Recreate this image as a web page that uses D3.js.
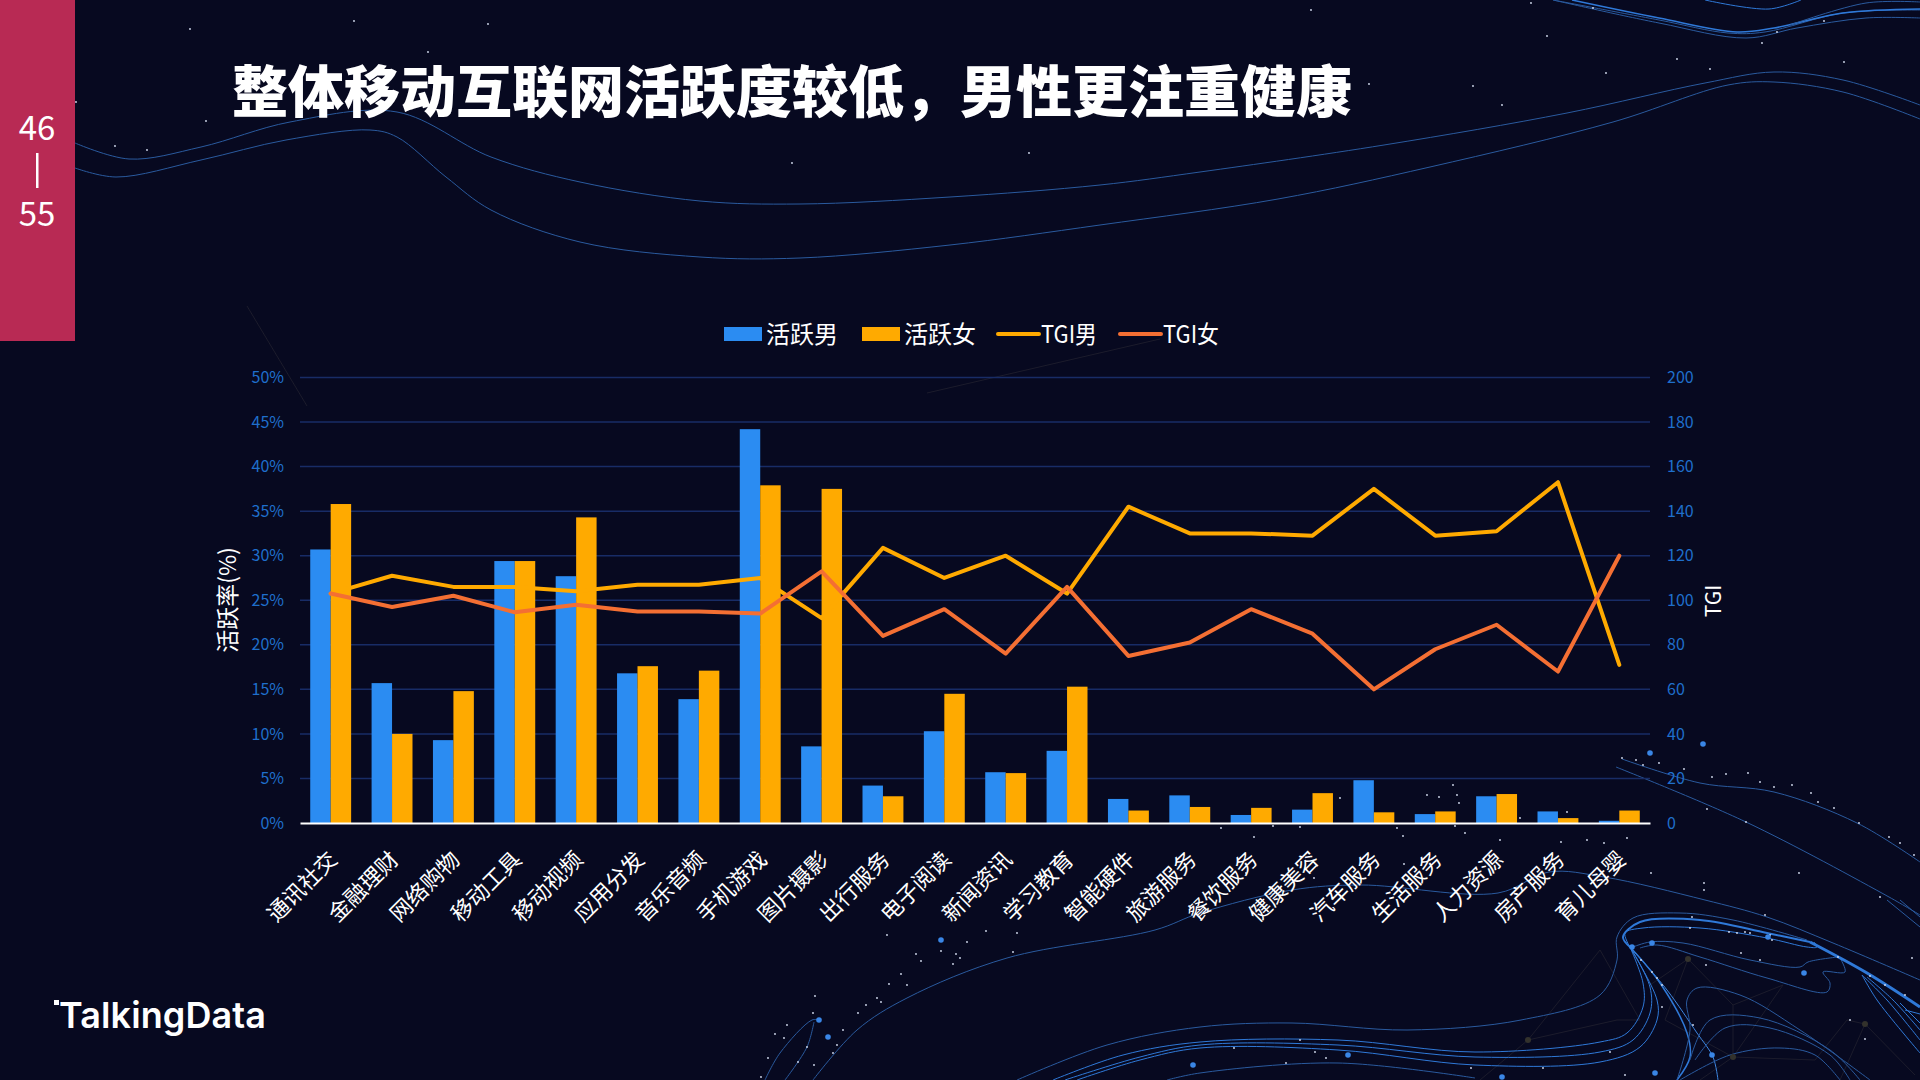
<!DOCTYPE html>
<html>
<head>
<meta charset="utf-8">
<script src="https://cdn.jsdelivr.net/npm/d3@7"></script>
<style>
    html, body { margin: 0; padding: 0; background: #070920; }
    svg { display: block; }
    text { font-family: "Noto Sans CJK SC", "Noto Sans", sans-serif; }
</style>
</head>
<body>
<script>
    //------------------------1. PREPARATION------------------------//
    //-----------------------------DATA-----------------------------//
    const data = [
        { name: "通讯社交", male: 30.7, female: 35.8, tgiMale: 103, tgiFemale: 103 },
        { name: "金融理财", male: 15.7, female: 10.0, tgiMale: 111, tgiFemale: 97 },
        { name: "网络购物", male: 9.3, female: 14.8, tgiMale: 106, tgiFemale: 102 },
        { name: "移动工具", male: 29.4, female: 29.4, tgiMale: 106, tgiFemale: 94.6 },
        { name: "移动视频", male: 27.7, female: 34.3, tgiMale: 104, tgiFemale: 98 },
        { name: "应用分发", male: 16.8, female: 17.6, tgiMale: 107, tgiFemale: 95 },
        { name: "音乐音频", male: 13.9, female: 17.1, tgiMale: 107, tgiFemale: 95 },
        { name: "手机游戏", male: 44.2, female: 37.9, tgiMale: 110, tgiFemale: 94 },
        { name: "图片摄影", male: 8.6, female: 37.5, tgiMale: 92, tgiFemale: 113 },
        { name: "出行服务", male: 4.2, female: 3.0, tgiMale: 123.5, tgiFemale: 84 },
        { name: "电子阅读", male: 10.3, female: 14.5, tgiMale: 110, tgiFemale: 96 },
        { name: "新闻资讯", male: 5.7, female: 5.6, tgiMale: 120, tgiFemale: 76 },
        { name: "学习教育", male: 8.1, female: 15.3, tgiMale: 103, tgiFemale: 106 },
        { name: "智能硬件", male: 2.7, female: 1.4, tgiMale: 142, tgiFemale: 75 },
        { name: "旅游服务", male: 3.1, female: 1.8, tgiMale: 130, tgiFemale: 81 },
        { name: "餐饮服务", male: 0.9, female: 1.7, tgiMale: 130, tgiFemale: 96 },
        { name: "健康美容", male: 1.5, female: 3.35, tgiMale: 129, tgiFemale: 85 },
        { name: "汽车服务", male: 4.8, female: 1.2, tgiMale: 150, tgiFemale: 60 },
        { name: "生活服务", male: 1.0, female: 1.3, tgiMale: 129, tgiFemale: 78 },
        { name: "人力资源", male: 3.0, female: 3.25, tgiMale: 131, tgiFemale: 89 },
        { name: "房产服务", male: 1.3, female: 0.55, tgiMale: 153, tgiFemale: 68 },
        { name: "育儿母婴", male: 0.25, female: 1.4, tgiMale: 71, tgiFemale: 120 }
    ];

    const BLUE = "#2b8cf2", AMBER = "#ffaa00", ORANGE = "#f46f33";
    const TICK = "#1f6fcc", GRID = "#182c66", CURVE = "#2a5a9e", BRIGHT = "#2f79d8";

    //-----------------------------SVG------------------------------//
    const svg = d3.select("body").append("svg")
        .attr("width", 1920)
        .attr("height", 1080);

    svg.append("rect").attr("width", 1920).attr("height", 1080).attr("fill", "#070920");

    //--------------------------BACKGROUND--------------------------//
    // faint network behind the swirl
    const net = [
        [[1688,959],[1733,1005],[1733,1057]], [[1688,959],[1665,1020],[1733,1057]], [[1733,1005],[1783,985],[1733,1057]],
        [[1688,959],[1650,985]], [[1865,1024],[1847,1020],[1815,1060],[1733,1057]], [[1865,1024],[1915,1075]],
        [[1528,1040],[1600,950]], [[1528,1040],[1480,1080]], [[1528,1040],[1617,1020]], [[1600,950],[1640,1020],[1617,1020]],
        [[1733,1057],[1700,1080]], [[1865,1024],[1840,1080]],
        [[927,393],[1160,339]], [[247,306],[307,406]]
    ];
    const straight = d3.line();
    svg.append("g").attr("fill", "none").attr("stroke", "#1c1c2c")
        .selectAll("path")
        .data(net)
        .enter()
        .append("path")
        .attr("d", d => straight(d));

    // swooshes
    const curves = [
        { w: 1, c: CURVE, p: [[75,143],[129,159],[201,147],[290,122],[397,112],[491,157],[580,182],[700,201],[800,204],[950,197],[1100,185],[1200,172],[1384,145],[1567,113],[1705,83],[1774,72],[1843,80],[1920,105]] },
        { w: 1, c: CURVE, p: [[75,168],[116,177],[201,160],[286,140],[370,130],[397,137],[446,177],[491,210],[580,242],[700,257],[800,258],[950,245],[1100,225],[1278,199],[1430,167],[1613,122],[1728,85],[1774,82],[1843,92],[1920,119]] },
        { w: 1, c: CURVE, p: [[1553,0],[1659,20],[1728,33],[1765,32],[1843,13],[1920,10]] },
        { w: 1.5, c: BRIGHT, p: [[1572,0],[1659,18],[1737,32],[1774,28],[1843,13],[1920,9]] },
        { w: 1, c: CURVE, p: [[1553,0],[1659,23],[1746,38],[1797,28],[1866,18],[1920,18]] },
        { w: 1, c: BRIGHT, p: [[1705,0],[1769,9],[1801,0]] },
        { w: 1, c: CURVE, p: [[1790,25],[1866,3],[1920,2]] },
        // right side
        { w: 1, c: CURVE, p: [[1616,767],[1746,822],[1889,897],[1920,915]] },
        { w: 1, c: CURVE, p: [[1622,759],[1700,783],[1774,792],[1857,823],[1920,862]] },
        { w: 1, c: CURVE, p: [[813,1080],[857,1030],[907,998],[1007,958],[1155,930],[1200,913],[1292,890],[1361,885],[1498,893],[1549,872],[1604,877],[1705,900],[1767,917],[1833,943],[1920,980]] },
        { w: 1, c: CURVE, p: [[1887,900],[1920,927]] },
        { w: 1, c: CURVE, p: [[1900,900],[1920,917]] },
        // swirl
        { w: 1, c: CURVE, p: [[1017,1080],[1107,1045],[1200,1027],[1292,1023],[1407,1030],[1521,1020],[1600,995],[1617,960],[1617,937],[1633,918],[1680,913],[1733,920],[1807,940]] },
        { w: 2, c: BRIGHT, p: [[1630,947],[1623,937],[1640,922],[1700,920],[1767,933],[1810,942]] },
        { w: 1, c: BRIGHT, p: [[1630,947],[1625,933],[1643,928],[1700,928],[1767,938],[1807,947],[1817,947],[1814,942]] },
        { w: 1, c: CURVE, p: [[1633,947],[1650,942],[1683,943],[1750,960],[1800,967],[1808,962],[1838,957]] },
        { w: 1, c: CURVE, p: [[1640,948],[1657,945],[1700,957],[1767,978],[1827,992],[1830,983],[1823,972],[1845,972],[1840,958]] },
        { w: 1, c: BRIGHT, p: [[1053,1080],[1123,1055],[1200,1042],[1338,1040],[1475,1052],[1600,1042],[1627,1033],[1643,1007],[1643,983],[1630,947]] },
        { w: 1, c: BRIGHT, p: [[1065,1080],[1140,1057],[1200,1045],[1338,1045],[1475,1057],[1600,1052],[1633,1040],[1650,1013],[1650,987],[1630,947]] },
        { w: 1, c: BRIGHT, p: [[1077,1080],[1140,1060],[1200,1048],[1338,1050],[1475,1065],[1600,1062],[1640,1047],[1657,1020],[1657,1000],[1630,947]] },
        { w: 1, c: CURVE, p: [[1167,1080],[1200,1073],[1338,1063],[1475,1078]] },
        { w: 1, c: "#3d86e0", p: [[1630,947],[1667,990],[1697,1033],[1713,1057],[1718,1080]] },
        { w: 1.5, c: BRIGHT, p: [[1630,947],[1660,983],[1687,1033],[1690,1057],[1677,1080]] },
        { w: 1, c: CURVE, p: [[1677,1080],[1690,1030],[1687,1000],[1697,988],[1740,995],[1800,1030],[1870,1080]] },
        { w: 1, c: CURVE, p: [[1690,1060],[1710,1020],[1760,1018],[1830,1050],[1860,1080]] },
        { w: 1, c: CURVE, p: [[1695,1060],[1725,1028],[1770,1028],[1830,1055],[1850,1080]] },
        { w: 1, c: CURVE, p: [[1680,1080],[1730,1055],[1780,1048],[1815,1055],[1840,1080]] },
        // bright band and its fan
        { w: 3, c: BRIGHT, p: [[1810,942],[1867,973],[1920,1007]] },
        { w: 1, c: BRIGHT, p: [[1862,975],[1877,1000],[1920,1053]] },
        { w: 1, c: BRIGHT, p: [[1862,975],[1887,1000],[1920,1040]] },
        { w: 1, c: BRIGHT, p: [[1867,977],[1893,1000],[1920,1030]] },
        { w: 1, c: BRIGHT, p: [[1900,1003],[1920,1023]] },
        { w: 1, c: BRIGHT, p: [[1905,1010],[1920,1014]] },
        // small spray bottom left
        { w: 1, c: CURVE, p: [[765,1080],[780,1053],[812,1020],[819,1020]] },
        { w: 1, c: CURVE, p: [[785,1080],[807,1047],[814,1022]] }
    ];
    const swoosh = d3.line().curve(d3.curveCatmullRom.alpha(0.5));
    svg.append("g").attr("fill", "none")
        .selectAll("path")
        .data(curves)
        .enter()
        .append("path")
        .attr("stroke", d => d.c)
        .attr("stroke-width", d => d.w)
        .attr("d", d => swoosh(d.p));

    const stars = [
        [190,29],[354,21],[488,24],[428,52],[115,146],[147,150],[76,102],[206,121],[792,163],[1029,153],
        [1311,10],[1531,3],[1593,8],[1547,36],[1762,43],[1777,32],[1824,21],[1677,59],[1606,73],[1710,69],[1844,62],[1473,86],[1502,105],[1369,84],
        [815,996],[813,1013],[787,1025],[775,1034],[784,1038],[768,1058],[858,1013],[866,1005],[877,998],[881,1002],[889,984],[907,985],[901,974],[921,961],[916,954],
        [953,964],[960,958],[956,954],[967,942],[941,951],[1013,952],[986,931],[1017,933],[887,935],[843,1030],[837,1045],[833,1053],[814,1065],[807,1047],[798,1062],[761,1077],
        [1622,758],[1636,760],[1643,765],[1659,763],[1684,769],[1712,777],[1726,774],[1748,773],[1760,782],[1774,787],[1792,785],[1811,793],[1818,802],[1834,808],[1859,823],[1889,837],[1900,843],[1914,855],
        [1707,809],[1746,822],[1799,873],[1651,873],[1704,883],[1704,890],[1765,915],[1880,897],[1912,958],
        [1453,785],[1427,795],[1439,797],[1457,795],[1459,803],[1340,798],[1254,837],[1221,828],[1273,826],[1300,827],[1397,828],[1403,836],[1455,826],[1465,833],[1500,840],[1561,842],[1587,840],[1604,843],[1627,838],[1567,812],[1520,818],[1404,864],[1246,873],[1314,878],
        [1300,1040],[1234,1048],[1315,1052],[1326,1058],[1286,1063],[1471,1068],[1543,1068],[1610,1052],[1625,1075],
        [1692,917],[1690,928],[1729,932],[1737,933],[1745,932],[1750,933],[1770,935],[1772,940],[1741,953],[1760,960],[1706,965],[1641,960],[1652,972],[1657,978],[1662,985],[1662,1007],[1693,1025],[1850,1020],[1865,1039],[1838,957],[1870,976],[1885,985],[1905,995]
    ];
    svg.append("g").selectAll("circle")
        .data(stars)
        .enter()
        .append("circle")
        .attr("cx", d => d[0])
        .attr("cy", d => d[1])
        .attr("r", 0.9)
        .attr("fill", "#d8e2f5");

    const nodes = [[1650,753],[1703,744],[1632,947],[1652,943],[1768,937],[1804,973],[1712,1055],[1655,1073],[1348,1055],[1502,1077],[819,1020],[828,1037],[941,940],[1193,1065]];
    svg.append("g").selectAll("circle")
        .data(nodes)
        .enter()
        .append("circle")
        .attr("cx", d => d[0])
        .attr("cy", d => d[1])
        .attr("r", 2.8)
        .attr("fill", "#3a86e6");

    const darkNodes = [[1688,959],[1733,1057],[1865,1024],[1528,1040]];
    svg.append("g").selectAll("circle")
        .data(darkNodes)
        .enter()
        .append("circle")
        .attr("cx", d => d[0])
        .attr("cy", d => d[1])
        .attr("r", 3)
        .attr("fill", "#33322c");

    //-----------------------------PAGE-----------------------------//
    svg.append("rect").attr("width", 75).attr("height", 341).attr("fill", "#b82a54");
    svg.append("text").attr("x", 37).attr("y", 140).attr("text-anchor", "middle")
        .attr("fill", "#fff").style("font-size", "33px").text("46");
    svg.append("rect").attr("x", 36).attr("y", 153).attr("width", 2.5).attr("height", 35).attr("fill", "#fff");
    svg.append("text").attr("x", 37).attr("y", 226).attr("text-anchor", "middle")
        .attr("fill", "#fff").style("font-size", "33px").text("55");

    svg.append("text").attr("x", 232).attr("y", 112)
        .attr("fill", "#fff")
        .style("font-size", "56px").style("font-weight", "900")
        .text("整体移动互联网活跃度较低，男性更注重健康");

    svg.append("rect").attr("x", 54).attr("y", 1000).attr("width", 5).attr("height", 5).attr("fill", "#fff");
    svg.append("text").attr("x", 59).attr("y", 1028)
        .attr("fill", "#fff")
        .style("font-family", "Inter").style("font-size", "36px").style("font-weight", "600")
        .attr("textLength", 207)
        .text("TalkingData");

    //----------------------------SCALES----------------------------//
    var margin = { top: 377.5, right: 270, bottom: 257, left: 300 },
        width = 1920 - margin.left - margin.right,
        height = 1080 - margin.top - margin.bottom;

    const xScale = d3.scaleBand()
        .domain(data.map(d => d.name))
        .range([0, width])
        .paddingInner(1 / 3)
        .paddingOuter(1 / 6);
    const xSub = d3.scaleBand()
        .domain(["male", "female"])
        .range([0, xScale.bandwidth()]);
    const yScale = d3.scaleLinear().domain([0, 50]).range([height, 0]);
    const yTgi = d3.scaleLinear().domain([0, 200]).range([height, 0]);

    const g = svg.append("g").attr("transform", "translate(" + margin.left + "," + margin.top + ")");

    //-------------------------2. DRAWING---------------------------//
    //-----------------------------AXES-----------------------------//
    const yAxis = d3.axisLeft(yScale)
        .tickValues(d3.range(0, 51, 5))
        .tickSize(0)
        .tickPadding(16)
        .tickFormat(d => d + "%");
    const yAxisRight = d3.axisRight(yTgi)
        .tickValues(d3.range(0, 201, 20))
        .tickSize(0)
        .tickPadding(17);

    g.append("g")
        .selectAll("line")
        .data(d3.range(5, 51, 5))
        .enter()
        .append("line")
        .attr("x1", 0)
        .attr("x2", width)
        .attr("y1", d => yScale(d))
        .attr("y2", d => yScale(d))
        .attr("stroke", GRID)
        .attr("stroke-width", 1.5);

    const leftAxis = g.append("g").call(yAxis);
    const rightAxis = g.append("g").attr("transform", "translate(" + width + ",0)").call(yAxisRight);
    [leftAxis, rightAxis].forEach(a => {
        a.select(".domain").remove();
        a.selectAll("text").attr("fill", TICK).style("font-size", "16px");
    });

    //-----------------------------BARS-----------------------------//
    const groups = g.selectAll("bars")
        .data(data)
        .enter()
        .append("g")
        .attr("transform", d => "translate(" + xScale(d.name) + ",0)");

    [["male", BLUE], ["female", AMBER]].forEach(([key, color]) => {
        groups.append("rect")
            .attr("x", xSub(key))
            .attr("width", xSub.bandwidth())
            .attr("y", d => yScale(d[key]))
            .attr("height", d => height - yScale(d[key]))
            .attr("fill", color);
    });

    const xAxis = d3.axisBottom(xScale).tickSize(0).tickPadding(0);
    const bottomAxis = g.append("g")
        .attr("transform", "translate(0," + height + ")")
        .call(xAxis);
    bottomAxis.select(".domain").attr("stroke", "#fff").attr("stroke-width", 2);
    bottomAxis.selectAll("text")
        .attr("fill", "#fff")
        .attr("text-anchor", "end")
        .attr("dy", 0)
        .attr("y", 0)
        .attr("transform", "translate(8,38) rotate(-45)")
        .style("font-size", "22px");

    //----------------------------LINES-----------------------------//
    const lineOf = key => d3.line()
        .x(d => xScale(d.name) + xScale.bandwidth() / 2)
        .y(d => yTgi(d[key]));

    [["tgiMale", AMBER], ["tgiFemale", ORANGE]].forEach(([key, color]) => {
        g.append("path")
            .datum(data)
            .attr("fill", "none")
            .attr("stroke", color)
            .attr("stroke-width", 4)
            .attr("stroke-linejoin", "round")
            .attr("stroke-linecap", "round")
            .attr("d", lineOf(key));
    });

    //---------------------------TITLES-----------------------------//
    svg.append("text")
        .attr("transform", "translate(236,600) rotate(-90)")
        .attr("text-anchor", "middle")
        .attr("fill", "#fff")
        .style("font-size", "23px")
        .text("活跃率(%)");
    svg.append("text")
        .attr("transform", "translate(1721,601) rotate(-90)")
        .attr("text-anchor", "middle")
        .attr("fill", "#fff")
        .style("font-size", "21px")
        .text("TGI");

    //----------------------------LEGEND----------------------------//
    const legend = svg.append("g");
    [[724, BLUE, "活跃男"], [862, AMBER, "活跃女"]].forEach(([x, color, label]) => {
        legend.append("rect").attr("x", x).attr("y", 327).attr("width", 38).attr("height", 14).attr("fill", color);
        legend.append("text").attr("x", x + 42).attr("y", 343).attr("fill", "#fff").style("font-size", "24px").text(label);
    });
    [[998, AMBER, "TGI男"], [1120, ORANGE, "TGI女"]].forEach(([x, color, label]) => {
        legend.append("line").attr("x1", x).attr("x2", x + 41).attr("y1", 334).attr("y2", 334)
            .attr("stroke", color).attr("stroke-width", 4).attr("stroke-linecap", "round");
        legend.append("text").attr("x", x + 43).attr("y", 343).attr("fill", "#fff").style("font-size", "24px")
            .attr("textLength", 56).attr("lengthAdjust", "spacingAndGlyphs").text(label);
    });
</script>
</body>
</html>
